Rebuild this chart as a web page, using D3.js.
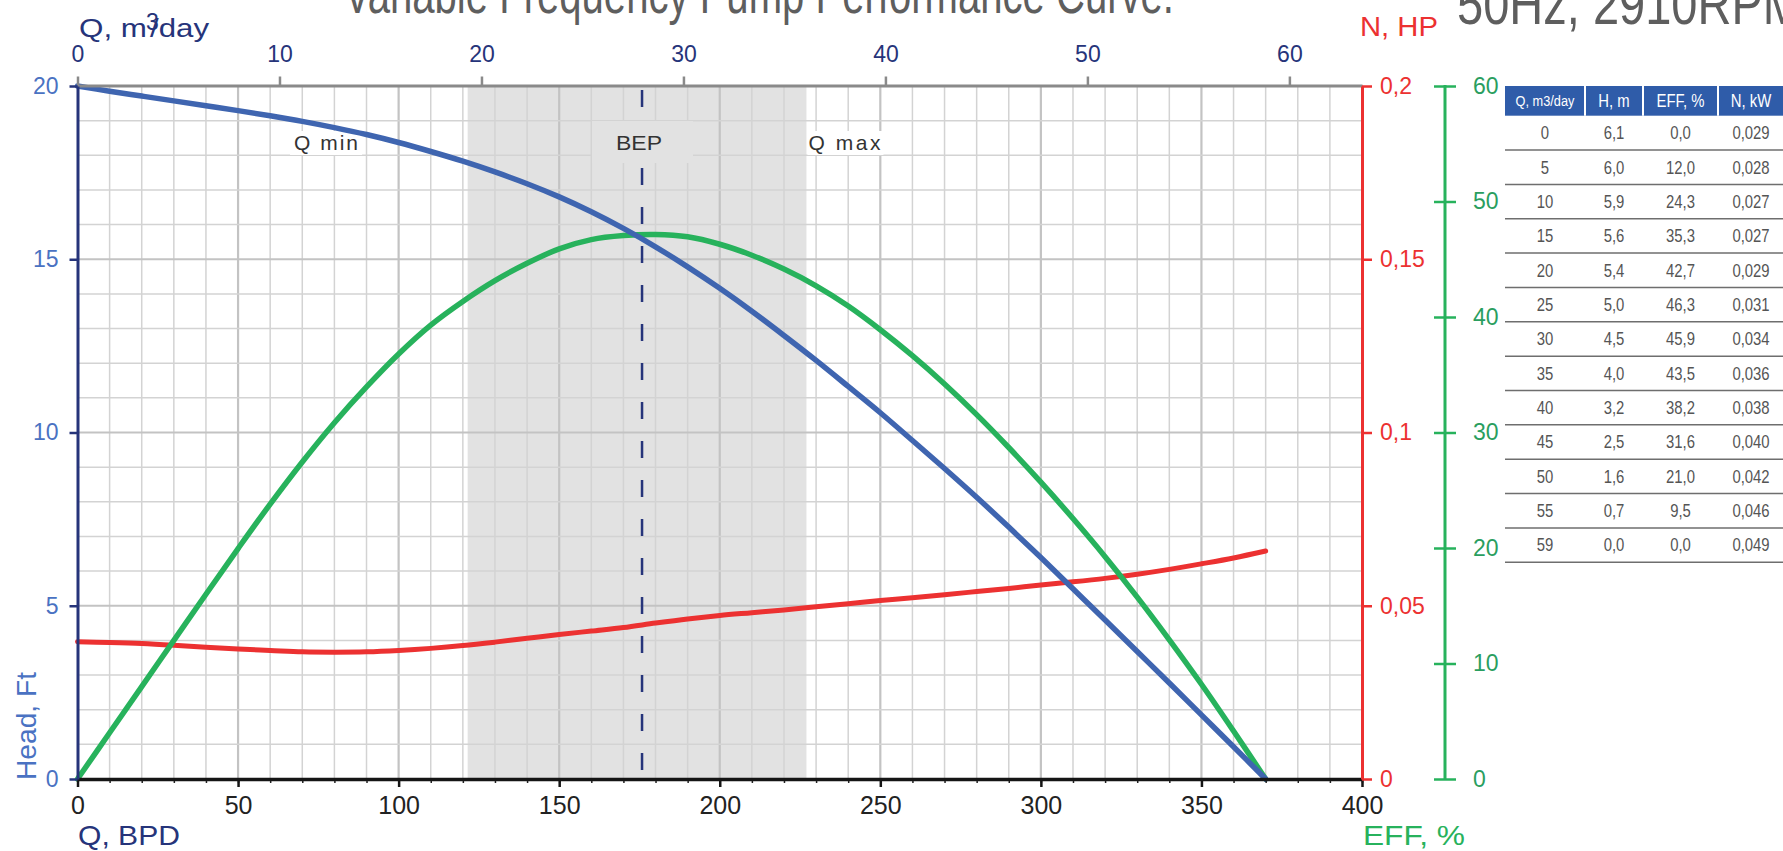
<!DOCTYPE html>
<html><head><meta charset="utf-8">
<script src="https://cdn.jsdelivr.net/npm/d3@7/dist/d3.min.js"></script>
<style>
html,body{margin:0;padding:0;background:#fff;overflow:hidden}
svg{display:block}
text{font-family:"Liberation Sans",Arial,Helvetica,sans-serif}
</style></head><body>
<svg id="chart" width="1783" height="851"></svg>
<script>
// ---------- data ----------
const qBPD    = [0,10,20,30,40,50,60,70,80,90,100,110,120,130,140,150,160,170,180,190,200,210,220,230,240,250,260,270,280,290,300,310,320,330,340,350,360,370];
const headFt  = [20.0,19.85,19.71,19.57,19.43,19.29,19.14,18.98,18.8,18.6,18.37,18.11,17.83,17.52,17.18,16.8,16.37,15.89,15.36,14.78,14.16,13.5,12.8,12.08,11.33,10.57,9.77,8.96,8.13,7.27,6.39,5.49,4.59,3.68,2.77,1.85,0.93,0.0];
const effPct  = [0,4.0,8.0,12.0,16.0,19.95,23.8,27.45,30.85,33.95,36.8,39.3,41.35,43.15,44.65,45.9,46.7,47.05,47.15,46.95,46.3,45.35,44.15,42.7,40.95,38.9,36.65,34.2,31.55,28.7,25.7,22.55,19.25,15.75,12.05,8.2,4.15,0];
const powerHP = [0.0396,0.0394,0.0391,0.0386,0.038,0.0375,0.0371,0.0367,0.0366,0.0367,0.0371,0.0377,0.0385,0.0395,0.0406,0.0417,0.0427,0.0437,0.045,0.0462,0.0472,0.048,0.0488,0.0497,0.0506,0.0515,0.0523,0.0532,0.0541,0.055,0.056,0.0569,0.0579,0.0591,0.0605,0.0621,0.0638,0.0658];

const bottomTicks = [0,50,100,150,200,250,300,350,400];
const topTicksM3  = [0,10,20,30,40,50,60];
const headTicks   = [0,5,10,15,20];
const powerTicks  = [0,0.05,0.1,0.15,0.2];
const effTicks    = [0,10,20,30,40,50,60];
const bpdPerM3 = 6.2898;
const qMinBPD = 121.5, qMaxBPD = 227, bepBPD = 175.8, qMinLabelBPD = 77.4;

const tableHeaders = ["Q, m3/day","H, m","EFF, %","N, kW"];
const tableQ   = ["0","5","10","15","20","25","30","35","40","45","50","55","59"];
const tableH   = ["6,1","6,0","5,9","5,6","5,4","5,0","4,5","4,0","3,2","2,5","1,6","0,7","0,0"];
const tableEff = ["0,0","12,0","24,3","35,3","42,7","46,3","45,9","43,5","38,2","31,6","21,0","9,5","0,0"];
const tableN   = ["0,029","0,028","0,027","0,027","0,029","0,031","0,034","0,036","0,038","0,040","0,042","0,046","0,049"];

const titleText = "Variable Frequency Pump Performance Curve.";
const subtitleText = "50Hz, 2910RPM";

// ---------- layout ----------
const L = 77.5, R = 1362, T = 86, B = 779;
const svg = d3.select("#chart");
const x = d3.scaleLinear([0,400],[L,R]);
const xTop = d3.scaleLinear([0,400/bpdPerM3],[L,R]);
const yHead = d3.scaleLinear([0,20],[B,T]);
const yEff = d3.scaleLinear([0,60],[B,T]);
const yN = d3.scaleLinear([0,0.2],[B,T]);

const NAVY="#26347a", BLUE="#3f65b0", BLUE_T="#4a72c2", RED="#ec3131", GREEN="#27b25c", GREEN_T="#2a9e5f";

// shade
svg.append("rect").attr("x",x(qMinBPD)).attr("y",T).attr("width",x(qMaxBPD)-x(qMinBPD)).attr("height",B-T).attr("fill","#e2e2e2");

// grid
const grid = svg.append("g");
d3.range(10,400,10).forEach(v=>{
  const maj = v%50===0;
  grid.append("line").attr("x1",x(v)).attr("x2",x(v)).attr("y1",T).attr("y2",B)
    .attr("stroke",maj?"#c3c3c3":"#d3d3d3").attr("stroke-width",maj?2.2:1.5);
});
d3.range(1,20,1).forEach(v=>{
  const maj = v%5===0;
  grid.append("line").attr("x1",L).attr("x2",R).attr("y1",yHead(v)).attr("y2",yHead(v))
    .attr("stroke",maj?"#c3c3c3":"#d3d3d3").attr("stroke-width",maj?2.2:1.5);
});

// BEP dashed line
svg.append("line").attr("x1",x(bepBPD)).attr("x2",x(bepBPD)).attr("y1",T+4).attr("y2",B)
  .attr("stroke",NAVY).attr("stroke-width",2.5).attr("stroke-dasharray","17,22");

// annotation boxes & labels
const yLab = 150;
svg.append("rect").attr("x",x(bepBPD)-50).attr("y",121).attr("width",101).attr("height",42).attr("fill","#e2e2e2");
svg.append("rect").attr("x",x(qMinLabelBPD)-36).attr("y",131).attr("width",72).attr("height",24).attr("fill","#fff");
svg.append("rect").attr("x",x(qMaxBPD)+1).attr("y",131).attr("width",76).attr("height",24).attr("fill","#fff");
svg.append("text").attr("x",x(bepBPD)-26).attr("y",yLab).attr("font-size",21).attr("fill","#333")
  .attr("textLength",46).attr("lengthAdjust","spacingAndGlyphs").text("BEP");
svg.append("text").attr("x",x(qMinLabelBPD)-32).attr("y",yLab).attr("font-size",21).attr("fill","#333")
  .attr("textLength",64).attr("lengthAdjust","spacing").text("Q min");
svg.append("text").attr("x",x(qMaxBPD)+2).attr("y",yLab).attr("font-size",21).attr("fill","#333")
  .attr("textLength",72).attr("lengthAdjust","spacing").text("Q max");

// curves
const mk = (arr, ys) => qBPD.map((q,i)=>[x(q), ys(arr[i])]);
const line = d3.line().curve(d3.curveCatmullRom.alpha(0.5));
svg.append("path").attr("d",line(mk(powerHP,yN))).attr("fill","none").attr("stroke",RED).attr("stroke-width",5).attr("stroke-linecap","round");
svg.append("path").attr("d",line(mk(effPct,yEff))).attr("fill","none").attr("stroke",GREEN).attr("stroke-width",5.5).attr("stroke-linecap","round");
svg.append("path").attr("d",line(mk(headFt,yHead))).attr("fill","none").attr("stroke",BLUE).attr("stroke-width",5.5).attr("stroke-linecap","round");

// axes
function styleAxis(g, color, width, tickColor, tickW, textColor, fs){
  g.select(".domain").attr("stroke",color).attr("stroke-width",width);
  g.selectAll(".tick line").attr("stroke",tickColor).attr("stroke-width",tickW);
  g.selectAll(".tick text").attr("fill",textColor).attr("font-size",fs).attr("font-family",null);
}
// top
const gTop = svg.append("g").attr("transform",`translate(0,${T-0.5})`)
  .call(d3.axisTop(xTop).tickValues(topTicksM3).tickSize(9).tickSizeOuter(0).tickPadding(15));
styleAxis(gTop,"#8a8a8a",3,"#8a8a8a",2.5,NAVY,23);
// bottom minor
const gBm = svg.append("g").attr("transform",`translate(0,${B})`)
  .call(d3.axisBottom(x).tickValues(d3.range(0,401,10)).tickSize(4).tickFormat(""));
gBm.select(".domain").remove();
gBm.selectAll(".tick line").attr("stroke","#222").attr("stroke-width",1.5);
// bottom
const gB = svg.append("g").attr("transform",`translate(0,${B})`)
  .call(d3.axisBottom(x).tickValues(bottomTicks).tickSize(8).tickSizeOuter(0).tickPadding(9));
styleAxis(gB,"#151515",3.5,"#151515",2.5,"#222",25);
// left
const gL = svg.append("g").attr("transform",`translate(${L},0)`)
  .call(d3.axisLeft(yHead).tickValues(headTicks).tickSize(8).tickSizeOuter(0).tickPadding(11));
styleAxis(gL,NAVY,3,NAVY,2.5,BLUE_T,23);
// red right
const fmtComma = d => d===0 ? "0" : String(d).replace(".",",");
const gN = svg.append("g").attr("transform",`translate(${R},0)`)
  .call(d3.axisRight(yN).tickValues(powerTicks).tickSize(10).tickSizeOuter(0).tickPadding(8).tickFormat(fmtComma));
styleAxis(gN,RED,3,RED,2.5,RED,23);
// green right
const gE = svg.append("g").attr("transform",`translate(1445,0)`)
  .call(d3.axisRight(yEff).tickValues(effTicks).tickSize(11).tickSizeOuter(0).tickPadding(17));
styleAxis(gE,GREEN,3,GREEN,2.5,GREEN_T,23);
gE.selectAll(".tick line").attr("x1",-11);
gE.select(".domain").attr("d",`M0,${T-1}V${B}`);

// axis titles
svg.append("text").attr("x",79).attr("y",37).attr("font-size",25).attr("fill",NAVY)
  .attr("textLength",68).attr("lengthAdjust","spacingAndGlyphs").text("Q, m");
svg.append("text").attr("x",146).attr("y",30).attr("font-size",23).attr("fill",NAVY).text("3");
svg.append("text").attr("x",150).attr("y",37).attr("font-size",25).attr("fill",NAVY)
  .attr("textLength",59).attr("lengthAdjust","spacingAndGlyphs").text("/day");
svg.append("text").attr("x",78).attr("y",845).attr("font-size",28).attr("fill",NAVY)
  .attr("textLength",102).attr("lengthAdjust","spacingAndGlyphs").text("Q, BPD");
svg.append("text").attr("transform","translate(36,780) rotate(-90)").attr("font-size",28).attr("fill",BLUE_T)
  .attr("textLength",108).attr("lengthAdjust","spacingAndGlyphs").text("Head, Ft");
svg.append("text").attr("x",1363).attr("y",845).attr("font-size",28).attr("fill",GREEN)
  .attr("textLength",102).attr("lengthAdjust","spacingAndGlyphs").text("EFF,  %");
svg.append("text").attr("x",1360).attr("y",36).attr("font-size",28).attr("fill",RED)
  .attr("textLength",78).attr("lengthAdjust","spacingAndGlyphs").text("N, HP");

// title
svg.append("text").attr("x",344).attr("y",13).attr("font-family","Roboto").attr("font-weight",300)
  .attr("font-size",56).attr("fill","#5e5e5e").attr("textLength",830).attr("lengthAdjust","spacingAndGlyphs").text(titleText);
svg.append("text").attr("x",1457).attr("y",24).attr("font-family","Roboto").attr("font-weight",300)
  .attr("font-size",58).attr("fill","#5e5e5e").attr("textLength",345).attr("lengthAdjust","spacingAndGlyphs").text(subtitleText);

// table
const colX = [1505,1585,1643,1718,1790];
const hdrTop = 86, hdrBot = 115.7, rowH = 34.35;
const tb = svg.append("g");
tb.append("rect").attr("x",colX[0]).attr("y",hdrTop).attr("width",colX[4]-colX[0]).attr("height",hdrBot-hdrTop).attr("fill","#2f5ca9");
[1,2,3].forEach(i=>tb.append("line").attr("x1",colX[i]).attr("x2",colX[i]).attr("y1",hdrTop).attr("y2",hdrBot).attr("stroke","#fff").attr("stroke-width",2));
tableHeaders.forEach((h,i)=>{
  const cx=(colX[i]+colX[i+1])/2 - (i===3?3:0);
  tb.append("text").attr("transform",`translate(${cx},${(hdrTop+hdrBot)/2}) scale(0.85,1)`)
    .attr("text-anchor","middle").attr("dy","0.36em").attr("font-family","Roboto")
    .attr("font-size",i===0?15:17.5).attr("fill","#fff").text(h);
});
const cols=[tableQ,tableH,tableEff,tableN];
tableQ.forEach((_,r)=>{
  const cy = hdrBot + rowH*(r+0.5);
  cols.forEach((c,i)=>{
    const cx=(colX[i]+colX[i+1])/2 - (i===3?3:0);
    tb.append("text").attr("transform",`translate(${cx},${cy}) scale(0.85,1)`)
      .attr("text-anchor","middle").attr("dy","0.36em").attr("font-family","Roboto")
      .attr("font-size",17.5).attr("fill","#555").text(c[r]);
  });
  tb.append("line").attr("x1",colX[0]).attr("x2",1783).attr("y1",hdrBot+rowH*(r+1)).attr("y2",hdrBot+rowH*(r+1))
    .attr("stroke","#6e6e6e").attr("stroke-width",1.5);
});
</script>
</body></html>
